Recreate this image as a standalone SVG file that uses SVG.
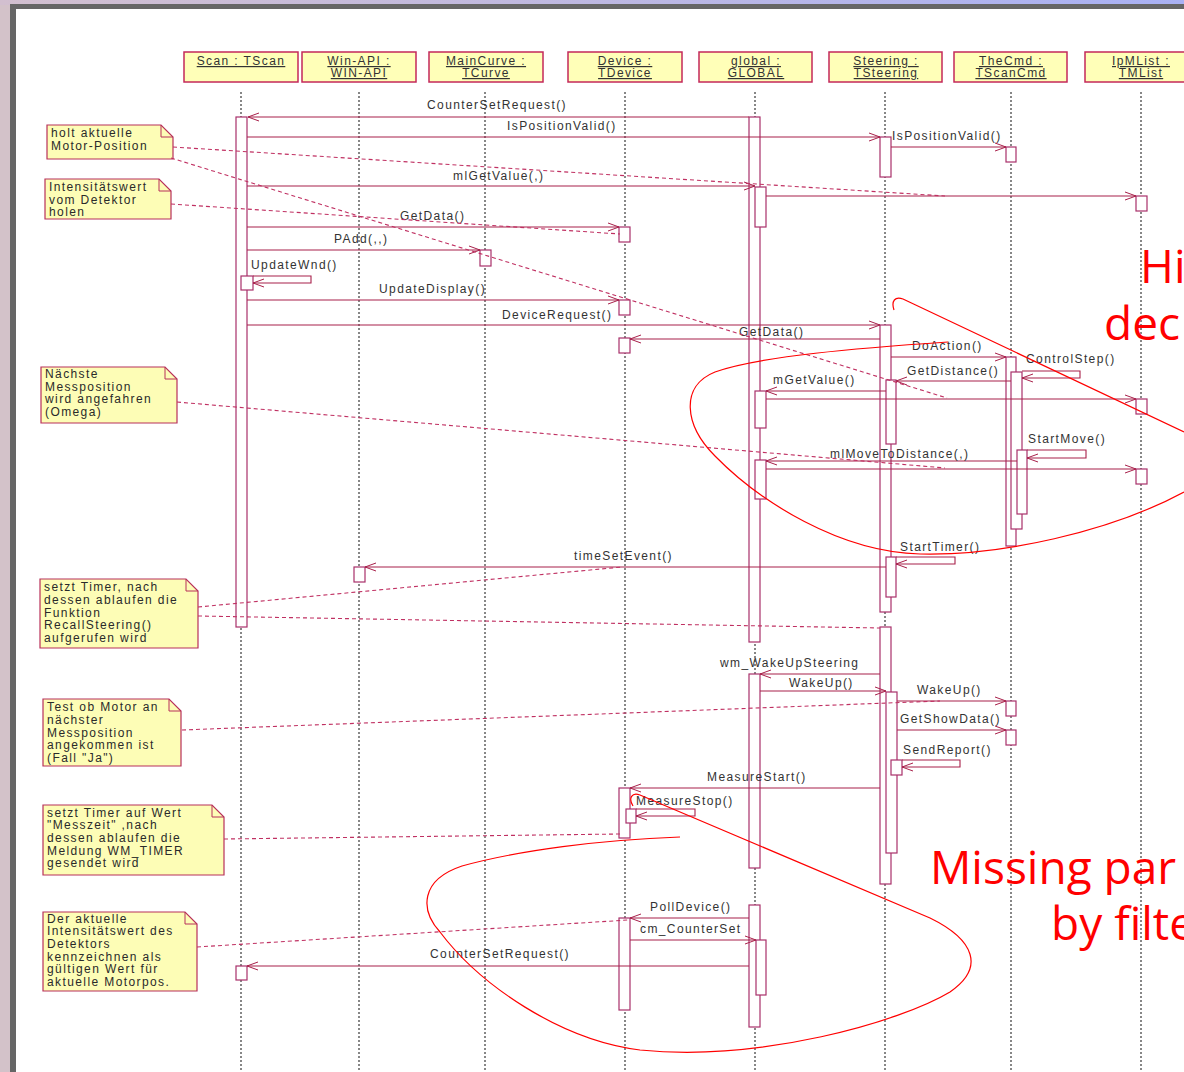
<svg xmlns="http://www.w3.org/2000/svg" width="1184" height="1072" viewBox="0 0 1184 1072">
<defs>
<linearGradient id="topband" x1="0" y1="0" x2="1" y2="0">
<stop offset="0" stop-color="#d2bfcf"/>
<stop offset="1" stop-color="#a9b1f4"/>
</linearGradient>
<marker id="arr" viewBox="0 0 12 10" refX="11" refY="5" markerWidth="12" markerHeight="10" markerUnits="userSpaceOnUse" orient="auto">
<path d="M0,1 L11,5 L0,9" fill="none" stroke="#a8204a" stroke-width="1"/>
</marker>
<style>
.hdr{fill:#ffffb8;stroke:#c4285a;stroke-width:1.5}
.htx{font-family:"Liberation Sans",Arial,sans-serif;font-size:12px;letter-spacing:1.4px;fill:#333;text-anchor:middle;text-decoration:underline}
.life{stroke:#555;stroke-width:1.4;stroke-dasharray:2 2;fill:none}
.bar{fill:#fff;stroke:#a8306a;stroke-width:1.2}
.msg{stroke:#a8204a;stroke-width:1.1;fill:none;marker-end:url(#arr)}
.lbl{font-family:"Liberation Sans",Arial,sans-serif;font-size:12px;letter-spacing:1.4px;fill:#333}
.note{fill:#fdfdb6;stroke:#b8305a;stroke-width:1.2}
.fold{fill:none;stroke:#b8305a;stroke-width:1}
.ntx{font-family:"Liberation Sans",Arial,sans-serif;font-size:12px;letter-spacing:1.4px;fill:#2a2a2a}
.link{stroke:#c03062;stroke-width:1.1;stroke-dasharray:4 3;fill:none}
.red{stroke:#ff0000;stroke-width:1.2;fill:none}
.rtx{font-family:"Open Sans","Noto Sans",sans-serif;font-size:46px;fill:#ff0000}
</style>
</defs>

<g id="frame">
<rect x="0" y="0" width="1184" height="1072" fill="#d3c2c9"/>
<rect x="0" y="0" width="1184" height="5" fill="url(#topband)"/>
<rect x="10" y="4" width="1174" height="1068" fill="#666"/>
<rect x="16" y="9" width="1168" height="1063" fill="#fff"/>
</g>

<g id="lifelines">
<line class="life" x1="241" y1="92" x2="241" y2="1072"/>
<line class="life" x1="359" y1="92" x2="359" y2="1072"/>
<line class="life" x1="485" y1="92" x2="485" y2="1072"/>
<line class="life" x1="625" y1="92" x2="625" y2="1072"/>
<line class="life" x1="755" y1="92" x2="755" y2="1072"/>
<line class="life" x1="885" y1="92" x2="885" y2="1072"/>
<line class="life" x1="1011" y1="92" x2="1011" y2="1072"/>
<line class="life" x1="1141" y1="92" x2="1141" y2="1072"/>
</g>

<g id="node-scan">
<rect class="hdr" x="184" y="52" width="114" height="30"/>
<text class="htx" x="241" y="65">Scan : TScan</text>
</g>
<g id="node-winapi">
<rect class="hdr" x="302" y="52" width="114" height="30"/>
<text class="htx" x="359" y="65">Win-API :</text>
<text class="htx" x="359" y="77">WIN-API</text>
</g>
<g id="node-maincurve">
<rect class="hdr" x="429" y="52" width="114" height="30"/>
<text class="htx" x="486" y="65">MainCurve :</text>
<text class="htx" x="486" y="77">TCurve</text>
</g>
<g id="node-device">
<rect class="hdr" x="568" y="52" width="114" height="30"/>
<text class="htx" x="625" y="65">Device :</text>
<text class="htx" x="625" y="77">TDevice</text>
</g>
<g id="node-global">
<rect class="hdr" x="699" y="52" width="113" height="30"/>
<text class="htx" x="756" y="65">global :</text>
<text class="htx" x="756" y="77">GLOBAL</text>
</g>
<g id="node-steering">
<rect class="hdr" x="829" y="52" width="113" height="30"/>
<text class="htx" x="886" y="65">Steering :</text>
<text class="htx" x="886" y="77">TSteering</text>
</g>
<g id="node-thecmd">
<rect class="hdr" x="954" y="52" width="113" height="30"/>
<text class="htx" x="1011" y="65">TheCmd :</text>
<text class="htx" x="1011" y="77">TScanCmd</text>
</g>
<g id="node-ipmlist">
<rect class="hdr" x="1085" y="52" width="113" height="30"/>
<text class="htx" x="1141" y="65">IpMList :</text>
<text class="htx" x="1141" y="77">TMList</text>
</g>

<g id="activations">
<rect class="bar" x="236" y="117" width="11" height="510"/>
<rect class="bar" x="241" y="276" width="12" height="14"/>
<rect class="bar" x="236" y="966" width="11" height="14"/>
<rect class="bar" x="354" y="567" width="11" height="15"/>
<rect class="bar" x="480" y="250" width="11" height="16"/>
<rect class="bar" x="619" y="227" width="11" height="15"/>
<rect class="bar" x="619" y="300" width="11" height="15"/>
<rect class="bar" x="619" y="338" width="11" height="15"/>
<rect class="bar" x="619" y="788" width="11" height="50"/>
<rect class="bar" x="626" y="809" width="10" height="14"/>
<rect class="bar" x="619" y="918" width="11" height="92"/>
<rect class="bar" x="749" y="117" width="11" height="525"/>
<rect class="bar" x="755" y="187" width="11" height="40"/>
<rect class="bar" x="755" y="391" width="11" height="37"/>
<rect class="bar" x="755" y="460" width="11" height="39"/>
<rect class="bar" x="749" y="674" width="11" height="194"/>
<rect class="bar" x="749" y="905" width="11" height="122"/>
<rect class="bar" x="756" y="940" width="10" height="55"/>
<rect class="bar" x="880" y="137" width="11" height="40"/>
<rect class="bar" x="880" y="325" width="11" height="287"/>
<rect class="bar" x="886" y="380" width="10" height="64"/>
<rect class="bar" x="886" y="557" width="10" height="40"/>
<rect class="bar" x="880" y="627" width="11" height="257"/>
<rect class="bar" x="886" y="692" width="11" height="161"/>
<rect class="bar" x="891" y="760" width="11" height="15"/>
<rect class="bar" x="1006" y="147" width="10" height="15"/>
<rect class="bar" x="1006" y="357" width="10" height="189"/>
<rect class="bar" x="1011" y="372" width="11" height="157"/>
<rect class="bar" x="1017" y="450" width="10" height="64"/>
<rect class="bar" x="1006" y="701" width="10" height="15"/>
<rect class="bar" x="1006" y="730" width="10" height="15"/>
<rect class="bar" x="1136" y="196" width="11" height="15"/>
<rect class="bar" x="1136" y="399" width="11" height="15"/>
<rect class="bar" x="1136" y="469" width="11" height="15"/>
</g>

<g id="connectors">
<path class="msg" d="M749,117 H248"/>
<path class="msg" d="M247,137 H880"/>
<path class="msg" d="M891,147 H1006"/>
<path class="msg" d="M247,186 H755"/>
<path class="msg" d="M766,196 H1136"/>
<path class="msg" d="M247,227 H619"/>
<path class="msg" d="M247,250 H480"/>
<path class="msg" d="M253,276 H311 V283 H253"/>
<path class="msg" d="M247,300 H619"/>
<path class="msg" d="M247,325 H880"/>
<path class="msg" d="M880,339 H630"/>
<path class="msg" d="M891,357 H1006"/>
<path class="msg" d="M1022,371 H1080 V378 H1022"/>
<path class="msg" d="M1011,381 H896"/>
<path class="msg" d="M886,391 H766"/>
<path class="msg" d="M766,399 H1136"/>
<path class="msg" d="M1027,450 H1086 V458 H1027"/>
<path class="msg" d="M1017,461 H766"/>
<path class="msg" d="M766,469 H1136"/>
<path class="msg" d="M896,557 H955 V564 H896"/>
<path class="msg" d="M886,567 H365"/>
<path class="msg" d="M880,674 H760"/>
<path class="msg" d="M760,691 H886"/>
<path class="msg" d="M897,701 H1006"/>
<path class="msg" d="M897,730 H1006"/>
<path class="msg" d="M902,760 H960 V767 H902"/>
<path class="msg" d="M880,788 H630"/>
<path class="msg" d="M636,809 H695 V816 H636"/>
<path class="msg" d="M749,918 H630"/>
<path class="msg" d="M630,940 H756"/>
<path class="msg" d="M749,966 H247"/>
<text class="lbl" x="427" y="109">CounterSetRequest()</text>
<text class="lbl" x="507" y="130">IsPositionValid()</text>
<text class="lbl" x="892" y="140">IsPositionValid()</text>
<text class="lbl" x="453" y="180">mlGetValue(,)</text>
<text class="lbl" x="400" y="220">GetData()</text>
<text class="lbl" x="334" y="243">PAdd(,,)</text>
<text class="lbl" x="251" y="269">UpdateWnd()</text>
<text class="lbl" x="379" y="293">UpdateDisplay()</text>
<text class="lbl" x="502" y="319">DeviceRequest()</text>
<text class="lbl" x="739" y="336">GetData()</text>
<text class="lbl" x="912" y="350">DoAction()</text>
<text class="lbl" x="1026" y="363">ControlStep()</text>
<text class="lbl" x="907" y="375">GetDistance()</text>
<text class="lbl" x="773" y="384">mGetValue()</text>
<text class="lbl" x="1028" y="443">StartMove()</text>
<text class="lbl" x="830" y="458">mlMoveToDistance(,)</text>
<text class="lbl" x="900" y="551">StartTimer()</text>
<text class="lbl" x="574" y="560">timeSetEvent()</text>
<text class="lbl" x="720" y="667">wm_WakeUpSteering</text>
<text class="lbl" x="789" y="687">WakeUp()</text>
<text class="lbl" x="917" y="694">WakeUp()</text>
<text class="lbl" x="900" y="723">GetShowData()</text>
<text class="lbl" x="903" y="754">SendReport()</text>
<text class="lbl" x="707" y="781">MeasureStart()</text>
<text class="lbl" x="636" y="805">MeasureStop()</text>
<text class="lbl" x="650" y="911">PollDevice()</text>
<text class="lbl" x="640" y="933">cm_CounterSet</text>
<text class="lbl" x="430" y="958">CounterSetRequest()</text>
</g>

<g id="note-1">
<path class="note" d="M47,125 H161 L173,137 V159 H47 Z"/>
<path class="fold" d="M161,125 V137 H173"/>
<text class="ntx"><tspan x="51" y="137">holt aktuelle</tspan><tspan x="51" y="150">Motor-Position</tspan></text>
</g>
<g id="note-2">
<path class="note" d="M45,179 H159 L171,191 V219 H45 Z"/>
<path class="fold" d="M159,179 V191 H171"/>
<text class="ntx"><tspan x="49" y="191">Intensitätswert</tspan><tspan x="49" y="204">vom Detektor</tspan><tspan x="49" y="216">holen</tspan></text>
</g>
<g id="note-3">
<path class="note" d="M41,367 H165 L177,379 V423 H41 Z"/>
<path class="fold" d="M165,367 V379 H177"/>
<text class="ntx"><tspan x="45" y="378">Nächste</tspan><tspan x="45" y="391">Messposition</tspan><tspan x="45" y="403">wird angefahren</tspan><tspan x="45" y="416">(Omega)</tspan></text>
</g>
<g id="note-4">
<path class="note" d="M40,579 H186 L198,591 V648 H40 Z"/>
<path class="fold" d="M186,579 V591 H198"/>
<text class="ntx"><tspan x="44" y="591">setzt Timer, nach</tspan><tspan x="44" y="604">dessen ablaufen die</tspan><tspan x="44" y="617">Funktion</tspan><tspan x="44" y="629">RecallSteering()</tspan><tspan x="44" y="642">aufgerufen wird</tspan></text>
</g>
<g id="note-5">
<path class="note" d="M43,699 H169 L181,711 V766 H43 Z"/>
<path class="fold" d="M169,699 V711 H181"/>
<text class="ntx"><tspan x="47" y="711">Test ob Motor an</tspan><tspan x="47" y="724">nächster</tspan><tspan x="47" y="737">Messposition</tspan><tspan x="47" y="749">angekommen ist</tspan><tspan x="47" y="762">(Fall "Ja")</tspan></text>
</g>
<g id="note-6">
<path class="note" d="M43,805 H212 L224,817 V875 H43 Z"/>
<path class="fold" d="M212,805 V817 H224"/>
<text class="ntx"><tspan x="47" y="817">setzt Timer auf Wert</tspan><tspan x="47" y="829">"Messzeit" ,nach</tspan><tspan x="47" y="842">dessen ablaufen die</tspan><tspan x="47" y="855">Meldung WM_TIMER</tspan><tspan x="47" y="867">gesendet wird</tspan></text>
</g>
<g id="note-7">
<path class="note" d="M43,912 H185 L197,924 V991 H43 Z"/>
<path class="fold" d="M185,912 V924 H197"/>
<text class="ntx"><tspan x="47" y="923">Der aktuelle</tspan><tspan x="47" y="935">Intensitätswert des</tspan><tspan x="47" y="948">Detektors</tspan><tspan x="47" y="961">kennzeichnen als</tspan><tspan x="47" y="973">gültigen Wert für</tspan><tspan x="47" y="986">aktuelle Motorpos.</tspan></text>
</g>

<g id="note-links">
<path class="link" d="M173,147 L945,196"/>
<path class="link" d="M171,158 L947,398"/>
<path class="link" d="M171,204 L620,234"/>
<path class="link" d="M177,402 L945,468"/>
<path class="link" d="M198,607 L622,567"/>
<path class="link" d="M198,616 L880,628"/>
<path class="link" d="M182,730 L940,701"/>
<path class="link" d="M224,839 L620,834"/>
<path class="link" d="M197,947 L628,920"/>
</g>

<g id="annotations">
<path class="red" d="M894,310 C891,301 895,296 903,299 L1184,432"/>
<path class="red" d="M948,342 C860,348 760,356 715,372 C680,386 684,425 715,456 C760,502 840,552 920,554 C1000,556 1110,532 1184,492"/>
<path class="red" d="M680,837 C600,840 520,850 462,866 C420,880 420,910 440,932 C480,985 560,1040 640,1050 C760,1062 900,1022 950,992 C985,968 975,940 930,918 L640,795 C632,792 628,798 633,806"/>
<text class="rtx" x="1140" y="283">Hi</text>
<text class="rtx" x="1104" y="340">dec</text>
<text class="rtx" x="930" y="884">Missing par</text>
<text class="rtx" x="1051" y="940">by filte</text>
</g>
</svg>
